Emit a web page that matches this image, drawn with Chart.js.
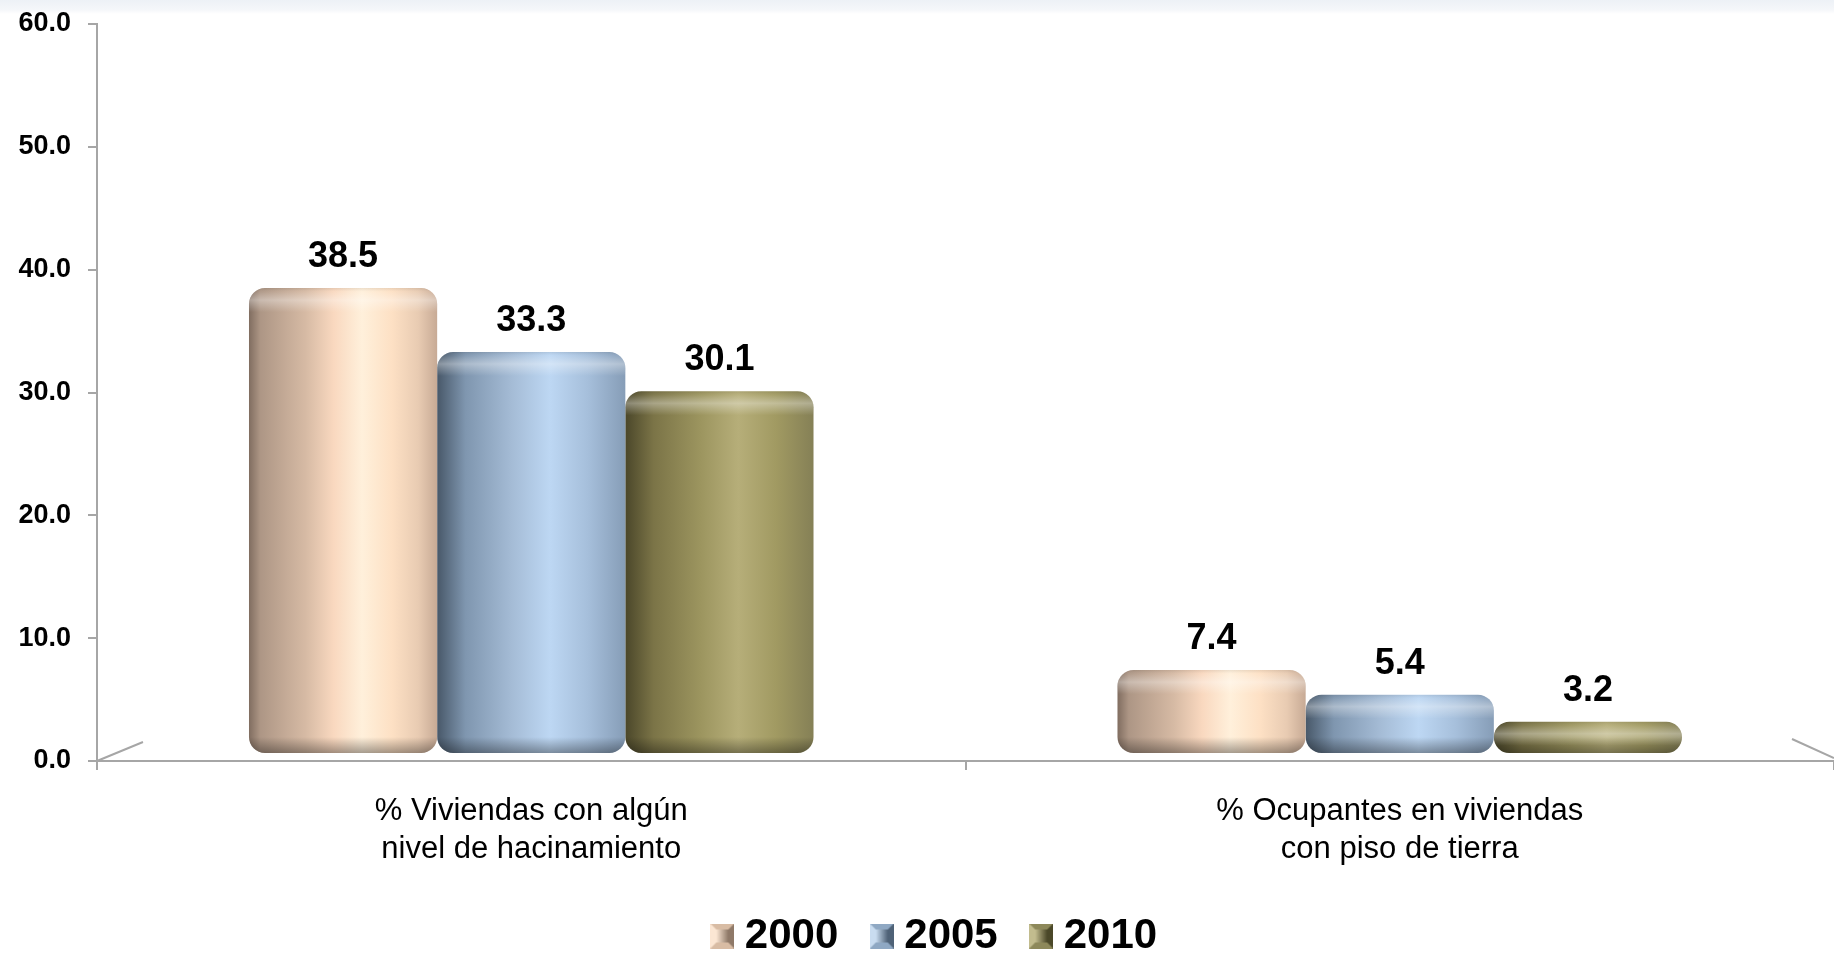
<!DOCTYPE html>
<html>
<head>
<meta charset="utf-8">
<title>Hacinamiento y piso de tierra</title>
<script src="https://cdn.jsdelivr.net/npm/chart.js@4.4.0/dist/chart.umd.min.js"></script>
<style>
    html, body { margin: 0; padding: 0; }
    body { background: linear-gradient(#edf1f6 0px, #f5f7fa 10px, #ffffff 14px); }
    #wrap { width: 1834px; height: 955px; position: relative; }
</style>
</head>
<body>
<div id="wrap"><canvas id="myChart"></canvas></div>
<script>
/*////////////////////////////// DATOS //////////////////////////////*/
const categorias = [
    ['% Viviendas con algún', 'nivel de hacinamiento'],
    ['% Ocupantes en viviendas', 'con piso de tierra']
];
const anios = ['2000', '2005', '2010'];
const valores2000 = [38.5, 7.4];
const valores2005 = [33.3, 5.4];
const valores2010 = [30.1, 3.2];
const ejeY = [0, 10, 20, 30, 40, 50, 60];

/*////////////////////////////// ESTILO //////////////////////////////*/
const FUENTE = '"Liberation Sans", Arial, sans-serif';
const CAT_PCT = 0.65;
const GRIS = '#a6a6a6';
const IZQ = 44;      // margen izquierdo (centra la leyenda como en el original)
const EJE_X = 97;    // posicion del eje vertical

// degradados horizontales de cada cilindro (izquierda -> derecha)
const tonos = [
    [[0, '#806d60'], [0.06, '#ad9685'], [0.3, '#d6baa4'], [0.45, '#f9d8bf'], [0.6, '#fff0db'], [0.76, '#fde0c4'], [0.9, '#e8cbb2'], [1, '#c7aa95']],
    [[0, '#485869'], [0.15, '#7f96af'], [0.4, '#a5bcd6'], [0.6, '#bdd7f3'], [0.8, '#a6bfdb'], [1, '#869db7']],
    [[0, '#4b472a'], [0.15, '#7b7447'], [0.4, '#9c955f'], [0.6, '#b6ae79'], [0.8, '#a19a62'], [1, '#858056']]
];
const solidos = ['#f6d9c1', '#a9c3df', '#938e5e'];

function gradienteBarra(stops, solido) {
    return function (c) {
        const chart = c.chart;
        const x = chart.scales.x;
        if (c.type !== 'data' || !chart.chartArea || !x) return solido;
        const catW = x.width / categorias.length;
        const barW = catW * CAT_PCT / anios.length;
        const left = x.getPixelForValue(c.dataIndex) - catW * CAT_PCT / 2 + c.datasetIndex * barW;
        const g = chart.ctx.createLinearGradient(left, 0, left + barW, 0);
        stops.forEach(s => g.addColorStop(s[0], s[1]));
        return g;
    };
}

// iconos biselados de la leyenda
function icono(claro, medio, oscuro) {
    const c = document.createElement('canvas');
    const w = 24, h = 25, b = 6;
    c.width = w; c.height = h;
    const g = c.getContext('2d');
    g.fillStyle = medio; g.fillRect(0, 0, w, h);
    g.fillStyle = claro;
    g.beginPath(); g.moveTo(0, 0); g.lineTo(b, b); g.lineTo(b, h - b); g.lineTo(0, h); g.closePath(); g.fill();
    g.fillStyle = oscuro;
    g.beginPath(); g.moveTo(w, 0); g.lineTo(w, h); g.lineTo(w - b, h - b); g.lineTo(w - b, b); g.closePath(); g.fill();
    const cg = g.createLinearGradient(b, 0, w - b, 0);
    cg.addColorStop(0, claro); cg.addColorStop(1, oscuro);
    g.fillStyle = cg; g.fillRect(b, b, w - 2 * b, h - 2 * b);
    return c;
}
const iconos = [
    icono('#fbe6d3', '#d8bca4', '#8f7968'),
    icono('#c9dcf0', '#8fa8c3', '#4f6277'),
    icono('#c2bc8e', '#8d885a', '#4b4829')
];

/*////////////////////////////// PLUGINS //////////////////////////////*/
const efecto3d = {
    id: 'efecto3d',
    afterLayout(chart) {
        // el eje Y ocupa desde el borde para que sus etiquetas no se recorten
        const y = chart.scales.y;
        y.left = 0;
        y.width = y.right;
    },
    beforeDatasetsDraw(chart) {
        // aristas del piso en perspectiva
        const {ctx, chartArea: a} = chart;
        ctx.save();
        ctx.strokeStyle = GRIS;
        ctx.lineWidth = 2;
        ctx.beginPath();
        ctx.moveTo(a.left, a.bottom);
        ctx.lineTo(a.left + 46, a.bottom - 19);
        ctx.moveTo(a.right - 42, a.bottom - 22);
        ctx.lineTo(a.right, a.bottom - 3);
        ctx.stroke();
        ctx.restore();
    },
    afterDatasetsDraw(chart) {
        const ctx = chart.ctx;
        // brillo superior y sombra inferior de cada cilindro
        chart.data.datasets.forEach((ds, i) => {
            chart.getDatasetMeta(i).data.forEach(bar => {
                const {x, y, base, width} = bar.getProps(['x', 'y', 'base', 'width'], true);
                const left = x - width / 2;
                const h = base - y;
                const r = Math.min(16, h / 2);
                ctx.save();
                ctx.beginPath();
                ctx.roundRect(left, y, width, h, r);
                ctx.clip();
                const gt = ctx.createLinearGradient(0, y, 0, y + 24);
                gt.addColorStop(0, 'rgba(0,0,0,0.08)');
                gt.addColorStop(0.15, 'rgba(255,255,255,0.05)');
                gt.addColorStop(0.5, 'rgba(255,255,255,0.35)');
                gt.addColorStop(1, 'rgba(255,255,255,0)');
                ctx.fillStyle = gt;
                ctx.fillRect(left, y, width, Math.min(24, h));
                const gb = ctx.createLinearGradient(0, base - 16, 0, base);
                gb.addColorStop(0, 'rgba(0,0,0,0)');
                gb.addColorStop(1, 'rgba(0,0,0,0.35)');
                ctx.fillStyle = gb;
                ctx.fillRect(left, base - 16, width, 16);
                ctx.restore();
            });
        });
        // etiquetas de valor
        ctx.save();
        ctx.font = 'bold 36px ' + FUENTE;
        ctx.fillStyle = '#000';
        ctx.textAlign = 'center';
        ctx.textBaseline = 'alphabetic';
        chart.data.datasets.forEach((ds, i) => {
            chart.getDatasetMeta(i).data.forEach((bar, j) => {
                ctx.fillText(ds.data[j].toFixed(1), bar.x, bar.y - 21);
            });
        });
        ctx.restore();
    }
};

/*////////////////////////////// GRAFICA //////////////////////////////*/
const series = [valores2000, valores2005, valores2010];

const ctx = document.getElementById('myChart').getContext('2d');
const myChart = new Chart(ctx, {
    type: 'bar',
    data: {
        labels: categorias,
        datasets: anios.map((anio, i) => ({
            label: anio,
            data: series[i],
            backgroundColor: gradienteBarra(tonos[i], solidos[i]),
            borderWidth: 0,
            borderRadius: 16,
            borderSkipped: false,
            base: 0.65,
            categoryPercentage: CAT_PCT,
            barPercentage: 1.0
        }))
    },
    options: {
        responsive: true,
        maintainAspectRatio: false,
        animation: false,
        layout: { padding: { top: 24, left: IZQ, right: 0, bottom: 0 } },
        plugins: {
            tooltip: { enabled: false },
            legend: {
                position: 'bottom',
                maxHeight: 82,
                labels: {
                    usePointStyle: true,
                    pointStyleWidth: 3,
                    boxHeight: 42,
                    padding: 42,
                    color: '#000',
                    font: { family: FUENTE, size: 42, weight: 'bold' },
                    generateLabels: chart => chart.data.datasets.map((ds, i) => ({
                        text: ds.label,
                        fillStyle: solidos[i],
                        strokeStyle: 'transparent',
                        lineWidth: 0,
                        pointStyle: iconos[i],
                        datasetIndex: i,
                        hidden: false,
                        fontColor: '#000'
                    }))
                }
            }
        },
        scales: {
            x: {
                ticks: {
                    color: '#000',
                    font: { family: FUENTE, size: 31, lineHeight: 1.22 },
                    padding: 23,
                    maxRotation: 0,
                    autoSkip: false
                },
                grid: { drawOnChartArea: false, tickLength: 9, color: GRIS, lineWidth: 2, offset: true },
                border: { color: GRIS, width: 2 },
                afterFit: s => { s.height = s.chart.height - 761 - s.chart.legend.height; }
            },
            y: {
                min: ejeY[0],
                max: ejeY[ejeY.length - 1],
                ticks: {
                    stepSize: ejeY[1] - ejeY[0],
                    callback: v => v.toFixed(1),
                    color: '#000',
                    padding: 17,
                    font: { family: FUENTE, size: 27, weight: 'bold' }
                },
                grid: { drawOnChartArea: false, tickLength: 9, color: GRIS, lineWidth: 2 },
                border: { color: GRIS, width: 2 },
                afterFit: s => {
                    s.width = EJE_X - IZQ;
                    s.paddingTop = 0;
                    s.paddingBottom = 0;
                }
            }
        }
    },
    plugins: [efecto3d]
});
</script>
</body>
</html>
